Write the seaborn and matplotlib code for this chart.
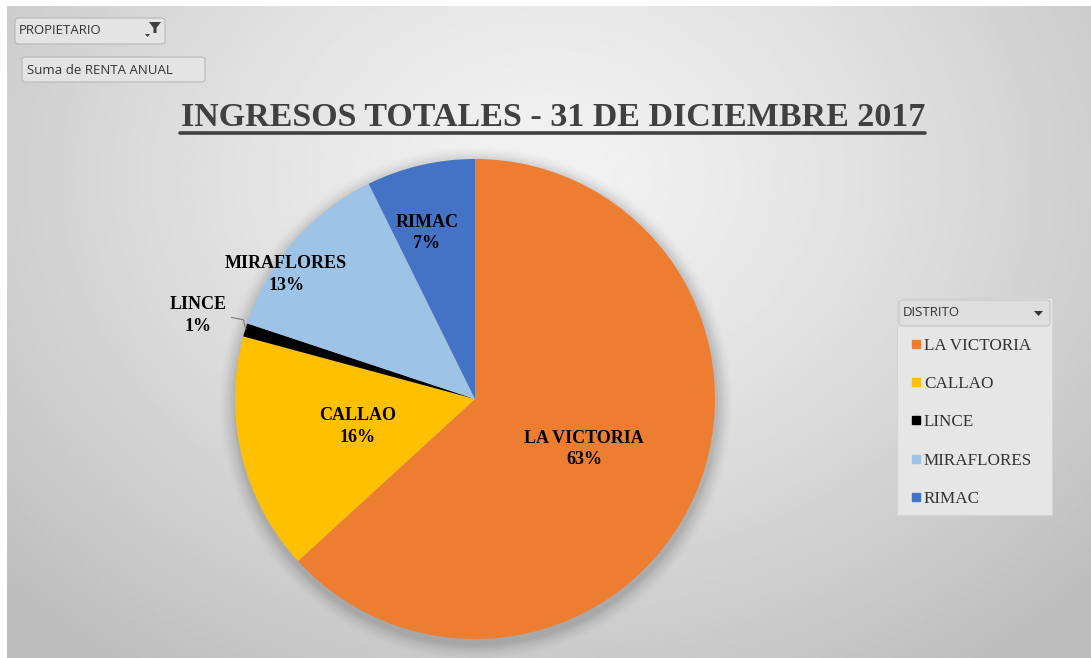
"""
plot.py
-------
Pie chart: INGRESOS TOTALES - 31 DE DICIEMBRE 2017 (Excel pivot chart look).
"""

import numpy as np
import matplotlib
matplotlib.use("Agg")
import matplotlib.pyplot as plt
from matplotlib.patches import FancyBboxPatch, Polygon
from matplotlib.lines import Line2D
import seaborn as sns


# ---------------------------------------------------------------------------
# Data
# ---------------------------------------------------------------------------

DISTRICTS = ["LA VICTORIA", "CALLAO", "LINCE", "MIRAFLORES", "RIMAC"]
SHARES = [63.2, 16.0, 0.9, 12.6, 7.3]
COLORS = ["#ed7d31", "#ffc000", "#000000", "#9dc3e6", "#4472c4"]

TITLE = "INGRESOS TOTALES - 31 DE DICIEMBRE 2017"
FILTER_LABEL = "PROPIETARIO"
VALUE_LABEL = "Suma de RENTA ANUAL"
LEGEND_TITLE = "DISTRITO"

W, H = 1091, 658

sns.set_theme(style="white")
SERIF = ["Liberation Serif", "DejaVu Serif"]
SANS = ["Open Sans", "DejaVu Sans"]
plt.rcParams["font.family"] = SERIF


def fx(px):
    return px / W


def fy(py):
    return 1 - py / H


fig = plt.figure(figsize=(W / 100, H / 100), dpi=100)
fig.patch.set_facecolor("white")

# ---------------------------------------------------------------------------
# Gray radial background
# ---------------------------------------------------------------------------
bg = fig.add_axes([fx(7), 0, 1 - fx(7), fy(6)])
yy, xx = np.mgrid[0:300, 0:500]
xx = xx / 499 * (W - 7)
yy = yy / 299 * (H - 6)
r = np.hypot((xx - 540) / 700, (yy - 170) / 560)
shade = np.clip(0.95 - 0.19 * r ** 1.3, 0.74, 0.96)
bg.imshow(shade, cmap="gray", vmin=0, vmax=1, aspect="auto",
          extent=[0, 1, 0, 1], origin="upper")
bg.set_axis_off()

# ---------------------------------------------------------------------------
# Pie
# ---------------------------------------------------------------------------
cx, cy, rad = 475, 399, 240
ax = fig.add_axes([fx(cx - rad), fy(cy + rad), 2 * rad / W, 2 * rad / H])
ax.set_axis_off()

# soft drop shadow
for k, a in enumerate(np.linspace(0.045, 0.008, 7)):
    sh = plt.Circle((0.004, -0.018), 1.0 + 0.01 * (k + 1), color="black",
                    alpha=a, lw=0, zorder=0, clip_on=False)
    ax.add_patch(sh)

wedges, _ = ax.pie(SHARES, colors=COLORS, startangle=90, counterclock=False,
                   radius=1.0, wedgeprops=dict(linewidth=0))
for w in wedges:
    w.set_zorder(2)
ax.set_xlim(-1, 1)
ax.set_ylim(-1, 1)

label_pos = {
    "LA VICTORIA": (0.455, -0.208),
    "CALLAO": (-0.488, -0.115),
    "LINCE": (-1.154, 0.348),
    "MIRAFLORES": (-0.787, 0.519),
    "RIMAC": (-0.20, 0.692),
}
for name, share in zip(DISTRICTS, SHARES):
    x, y = label_pos[name]
    ax.text(x, y, f"{name}\n{share:.0f}%", ha="center", va="center",
            fontsize=13, fontweight="bold", color="black",
            linespacing=1.33, zorder=5, family=SERIF)

# leader line for LINCE
ax.plot([-1.015, -0.965, -0.955], [0.34, 0.33, 0.29], color="#808080",
        lw=0.9, zorder=5, clip_on=False)

# ---------------------------------------------------------------------------
# Title (underlined)
# ---------------------------------------------------------------------------
fig.text(fx(553), fy(118), TITLE, ha="center", va="center", fontsize=24.5,
         fontweight="bold", color="#404040", family=SERIF)
fig.add_artist(Line2D([fx(180), fx(925)], [fy(133), fy(133)],
                      color="#404040", lw=2.6))


# ---------------------------------------------------------------------------
# Pivot field buttons
# ---------------------------------------------------------------------------
def button(x0, y0, x1, y1, face="#e4e4e4", edge="#b8b8b8"):
    box = FancyBboxPatch((fx(x0), fy(y1)), fx(x1 - x0), (y1 - y0) / H,
                         boxstyle="round,pad=0,rounding_size=0.004",
                         transform=fig.transFigure, facecolor=face,
                         edgecolor=edge, lw=0.8)
    fig.add_artist(box)


button(15, 18, 165, 44)
fig.text(fx(19), fy(31), FILTER_LABEL, ha="left", va="center", fontsize=9.5,
         color="#333333", family=SANS)
# funnel icon
fig.add_artist(Polygon([[fx(149), fy(22)], [fx(161), fy(22)],
                        [fx(156.5), fy(28)], [fx(156.5), fy(33)],
                        [fx(153.5), fy(33)], [fx(153.5), fy(28)]],
                       closed=True, transform=fig.transFigure,
                       facecolor="#404040", edgecolor="none"))
fig.add_artist(Polygon([[fx(145), fy(34)], [fx(150), fy(34)],
                        [fx(147.5), fy(37)]], closed=True,
                       transform=fig.transFigure, facecolor="#404040",
                       edgecolor="none"))

button(22, 57, 205, 82)
fig.text(fx(27), fy(70), VALUE_LABEL, ha="left", va="center", fontsize=9.5,
         color="#333333", family=SANS)

# ---------------------------------------------------------------------------
# Legend panel
# ---------------------------------------------------------------------------
panel = FancyBboxPatch((fx(897), fy(515)), fx(1052 - 897), (515 - 298) / H,
                       boxstyle="square,pad=0", transform=fig.transFigure,
                       facecolor="#e6e6e6", edgecolor="#d4d4d4", lw=0.8)
fig.add_artist(panel)
button(899, 300, 1050, 326, face="#dedede", edge="#c4c4c4")
fig.text(fx(903), fy(313), LEGEND_TITLE, ha="left", va="center",
         fontsize=9.5, color="#333333", family=SANS)
fig.add_artist(Polygon([[fx(1034), fy(311)], [fx(1043), fy(311)],
                        [fx(1038.5), fy(316)]], closed=True,
                       transform=fig.transFigure, facecolor="#333333",
                       edgecolor="none"))

handles = [Line2D([], [], marker="s", linestyle="none", markersize=6,
                  markerfacecolor=c, markeredgecolor=c) for c in COLORS]
leg = fig.legend(handles, DISTRICTS, loc="upper left",
                 bbox_to_anchor=(fx(911), fy(338)), frameon=False,
                 handlelength=0.6, handletextpad=0.15, labelspacing=1.3,
                 borderaxespad=0, borderpad=0, fontsize=12.3)
for t in leg.get_texts():
    t.set_color("#333333")
    t.set_fontfamily(SERIF)

fig.savefig("out.png", dpi=100)
plt.close(fig)
